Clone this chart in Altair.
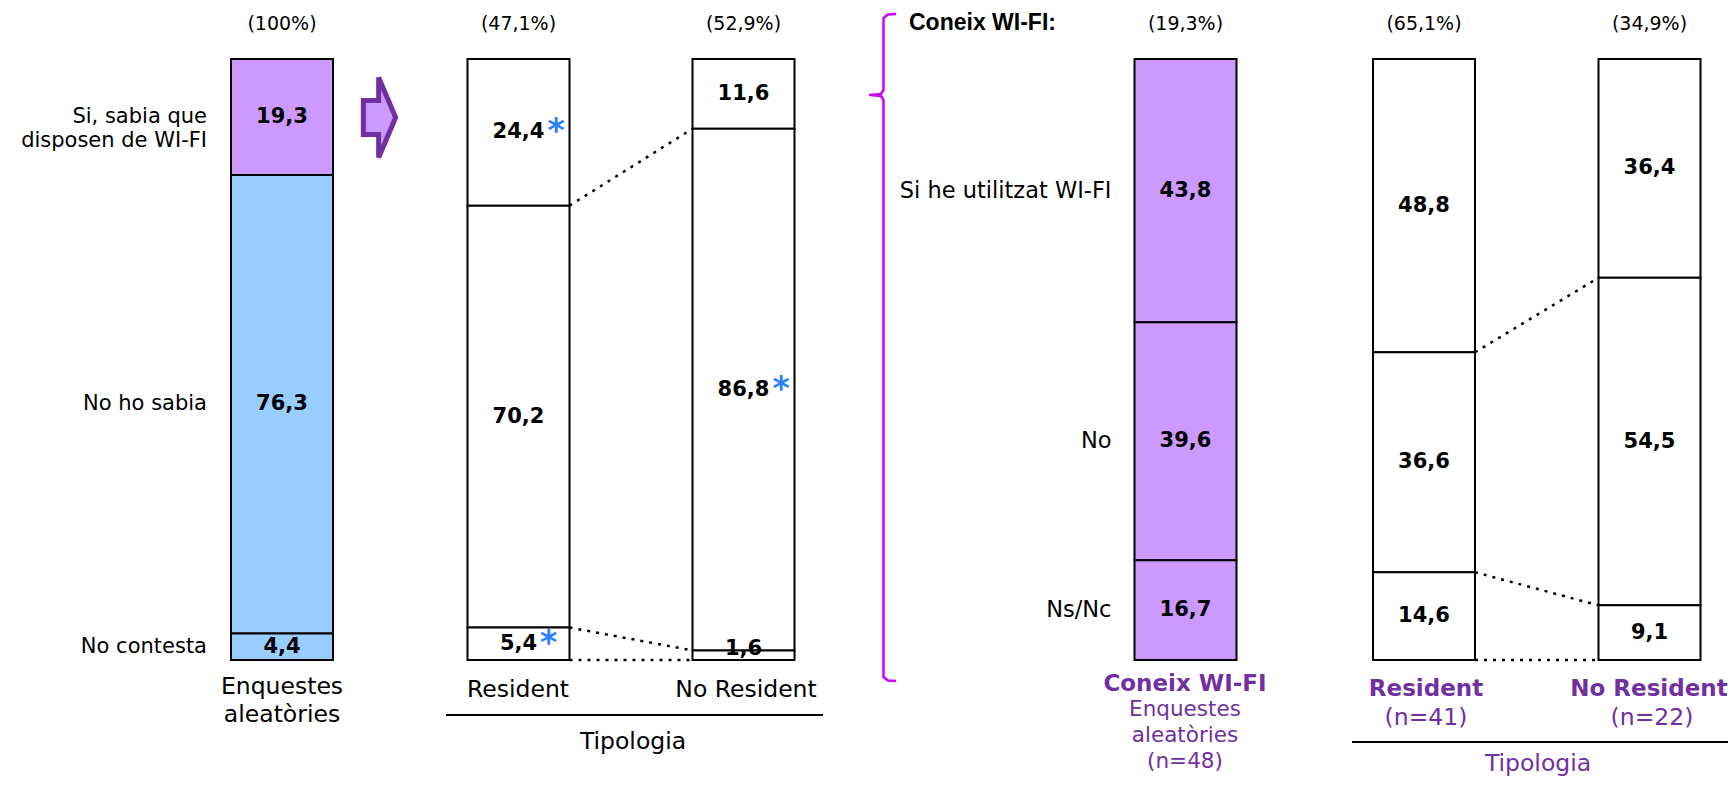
import altair as alt
import pandas as pd

# ---------------- data ----------------
bar_keys = ["total", "res", "nores", "coneix", "coneix_res", "coneix_nores"]
bar_shares = ["(100%)", "(47,1%)", "(52,9%)", "(19,3%)", "(65,1%)", "(34,9%)"]
vals_total = [19.3, 76.3, 4.4]
vals_res = [24.4, 70.2, 5.4]
vals_nores = [11.6, 86.8, 1.6]
vals_coneix = [43.8, 39.6, 16.7]
vals_coneix_res = [48.8, 36.6, 14.6]
vals_coneix_nores = [36.4, 54.5, 9.1]
star_res = [1, 0, 1]
star_nores = [0, 1, 0]
cats_left = ["Si, sabia que\ndisposen de WI-FI", "No ho sabia", "No contesta"]
cats_right = ["Si he utilitzat WI-FI", "No", "Ns/Nc"]
xlab_total = ["Enquestes", "aleatòries"]
xlab_res = "Resident"
xlab_nores = "No Resident"
group_title = "Tipologia"
coneix_title = "Coneix WI-FI:"
xlab_coneix = "Coneix WI-FI"
xlab_coneix_sub = ["Enquestes", "aleatòries", "(n=48)"]
n_res = "(n=41)"
n_nores = "(n=22)"

# ---------------- layout / style ----------------
M = 8
W, H = 1720, 769
centers_page = [282, 518.5, 743.5, 1185.5, 1424, 1649.5]
BW = 102
Y0, Y100 = 660 - M, 59 - M
PURPLE = "#cc99ff"
BLUE = "#99ccff"
DARKP = "#7030a0"
MAGENTA = "#cc00ff"
STARC = "#2a7fff"
FONT = "DejaVu Sans"


def ypct(page_y):
    return (Y0 - (page_y - M)) * 100.0 / (Y0 - Y100)


def xc(page_x):
    return page_x - M


values = {
    "total": vals_total, "res": vals_res, "nores": vals_nores,
    "coneix": vals_coneix, "coneix_res": vals_coneix_res, "coneix_nores": vals_coneix_nores,
}
stars = {"res": star_res, "nores": star_nores}
fills = {
    "total": [PURPLE, BLUE, BLUE], "coneix": [PURPLE] * 3,
}


def fmt(v):
    return f"{v:.1f}".replace(".", ",")


def half_w(s, size=21):
    w = 0
    for ch in s:
        w += 0.38 if ch == "," else 0.696
    return w * size / 2


rows = []
for i, k in enumerate(bar_keys):
    c = xc(centers_page[i])
    top = 100.0
    for j, v in enumerate(values[k]):
        bot = top - v
        mid = (top + bot) / 2
        lab = fmt(v)
        rows.append(dict(
            key=k, j=j, v=v, top=top, bot=max(bot, 0.0), x0=c - BW / 2, x1=c + BW / 2, xc=c,
            fill=fills.get(k, ["white"] * 3)[j], label=lab, ly=max(mid, 1.8),
            star=stars.get(k, [0, 0, 0])[j], sx=c + half_w(lab) + 3,
        ))
        top = bot
seg = pd.DataFrame(rows)

# connectors between the Tipologia bars
con_rows = []
for a, b in [("res", "nores"), ("coneix_res", "coneix_nores")]:
    ra = seg[seg.key == a].reset_index(drop=True)
    rb = seg[seg.key == b].reset_index(drop=True)
    for j in range(3):
        con_rows.append(dict(x=ra.loc[j, "x1"], x2=rb.loc[j, "x0"], y=ra.loc[j, "bot"], y2=rb.loc[j, "bot"]))
con = pd.DataFrame(con_rows)

# category labels at segment middles
t_rows = seg[seg.key == "total"].reset_index(drop=True)
c_rows = seg[seg.key == "coneix"].reset_index(drop=True)
cat_left_df = pd.DataFrame(
    [dict(x=t_rows.loc[j, "x0"] - 24, y=(t_rows.loc[j, "top"] + t_rows.loc[j, "bot"]) / 2, text=cats_left[j]) for j in range(3)]
)
cat_right_df = pd.DataFrame(
    [dict(x=c_rows.loc[j, "x0"] - 23, y=(c_rows.loc[j, "top"] + c_rows.loc[j, "bot"]) / 2, text=cats_right[j]) for j in range(3)]
)

share_df = pd.DataFrame(dict(x=[xc(p) for p in centers_page], y=[ypct(24)] * 6, text=bar_shares))

normal_txt = pd.DataFrame([
    dict(x=xc(282), y=ypct(687), text=xlab_total[0], color="black"),
    dict(x=xc(282), y=ypct(715), text=xlab_total[1], color="black"),
    dict(x=xc(518), y=ypct(690), text=xlab_res, color="black"),
    dict(x=xc(746), y=ypct(690), text=xlab_nores, color="black"),
    dict(x=xc(633), y=ypct(742), text=group_title, color="black"),
    dict(x=xc(1426), y=ypct(718), text=n_res, color=DARKP),
    dict(x=xc(1652), y=ypct(718), text=n_nores, color=DARKP),
    dict(x=xc(1538), y=ypct(764), text=group_title, color=DARKP),
])
sub_txt = pd.DataFrame([
    dict(x=xc(1185), y=ypct(710), text=xlab_coneix_sub[0]),
    dict(x=xc(1185), y=ypct(736), text=xlab_coneix_sub[1]),
    dict(x=xc(1185), y=ypct(762), text=xlab_coneix_sub[2]),
])
bold_txt = pd.DataFrame([
    dict(x=xc(1185), y=ypct(684), text=xlab_coneix),
    dict(x=xc(1426), y=ypct(689), text=xlab_res),
    dict(x=xc(1649), y=ypct(689), text=xlab_nores),
])
title_df = pd.DataFrame([dict(x=xc(909), y=ypct(23), text=coneix_title)])

under_df = pd.DataFrame([
    dict(x=xc(446), x2=xc(823), y=ypct(715)),
    dict(x=xc(1352), x2=xc(1729), y=ypct(742)),
])

brace_pts = [(896, 14), (888, 14.5), (883.5, 18), (883.5, 90), (881, 94), (870, 95), (881, 96),
             (883.5, 100), (883.5, 677), (888, 680.5), (896, 681)]
brace_df = pd.DataFrame([dict(i=i, x=xc(p[0]), y=ypct(p[1])) for i, p in enumerate(brace_pts)])

xs = alt.Scale(domain=[0, W], range=[0, W], nice=False, zero=False)
ys = alt.Scale(domain=[0, 100], range=[Y0, Y100], nice=False, zero=False)
X = lambda f: alt.X(f, scale=xs, axis=None)
Y = lambda f: alt.Y(f, scale=ys, axis=None)

rects = alt.Chart(seg).mark_rect(stroke="black", strokeWidth=2).encode(
    x=X("x0:Q"), x2="x1:Q", y=Y("top:Q"), y2="bot:Q", fill=alt.Fill("fill:N", scale=None)
)
vlabels = alt.Chart(seg).mark_text(font=FONT, fontWeight="bold", fontSize=21, color="black").encode(
    x=X("xc:Q"), y=Y("ly:Q"), text="label:N"
)
star_marks = alt.Chart(seg[seg.star == 1]).mark_text(
    font=FONT, fontWeight="bold", fontSize=33, color=STARC, align="left", dy=0
).encode(x=X("sx:Q"), y=Y("ly:Q"), text=alt.value("*"))
connectors = alt.Chart(con).mark_rule(strokeDash=[3, 6], strokeWidth=2.5, color="black").encode(
    x=X("x:Q"), x2="x2:Q", y=Y("y:Q"), y2="y2:Q"
)
cats_l = alt.Chart(cat_left_df).mark_text(font=FONT, fontSize=21, align="right", lineBreak="\n", lineHeight=24,
                                          color="black").encode(x=X("x:Q"), y=Y("y:Q"), text="text:N")
cats_r = alt.Chart(cat_right_df).mark_text(font=FONT, fontSize=22.5, align="right", color="black").encode(
    x=X("x:Q"), y=Y("y:Q"), text="text:N")
shares = alt.Chart(share_df).mark_text(font=FONT, fontSize=19, color="black").encode(
    x=X("x:Q"), y=Y("y:Q"), text="text:N")
ntext = alt.Chart(normal_txt).mark_text(font=FONT, fontSize=23.5).encode(
    x=X("x:Q"), y=Y("y:Q"), text="text:N", color=alt.Color("color:N", scale=None))
stext = alt.Chart(sub_txt).mark_text(font=FONT, fontSize=21.5, color=DARKP).encode(
    x=X("x:Q"), y=Y("y:Q"), text="text:N")
btext = alt.Chart(bold_txt).mark_text(font=FONT, fontSize=23, fontWeight="bold", color=DARKP).encode(
    x=X("x:Q"), y=Y("y:Q"), text="text:N")
ttext = alt.Chart(title_df).mark_text(font="Liberation Sans", fontSize=23, fontWeight="bold", align="left",
                                      color="black").encode(x=X("x:Q"), y=Y("y:Q"), text="text:N")
unders = alt.Chart(under_df).mark_rule(color="black", strokeWidth=2).encode(
    x=X("x:Q"), x2="x2:Q", y=Y("y:Q"))
brace = alt.Chart(brace_df).mark_line(color=MAGENTA, strokeWidth=2.5, strokeJoin="round").encode(
    x=X("x:Q"), y=Y("y:Q"), order="i:Q")
arrow_path = "M-0.38,-0.40 L-0.02,-0.40 L-0.02,-0.94 L0.38,0 L-0.02,0.94 L-0.02,0.40 L-0.38,0.40 Z"
arrow = alt.Chart(pd.DataFrame({"a": [0]})).mark_point(
    shape=arrow_path, filled=True, fill=PURPLE, stroke=DARKP, strokeWidth=5, opacity=1, size=85 * 85
).encode(x=alt.value(xc(379.5)), y=alt.value(117.5 - M))

chart = alt.layer(
    rects, connectors, vlabels, star_marks, cats_l, cats_r, shares, ntext, stext, btext, ttext, unders, brace, arrow
).properties(
    width=W, height=H, padding=0, autosize=alt.AutoSizeParams(type="none"), background="white"
).configure_view(stroke=None)

chart.save("out.html", embed_options={"renderer": "svg", "actions": False})
